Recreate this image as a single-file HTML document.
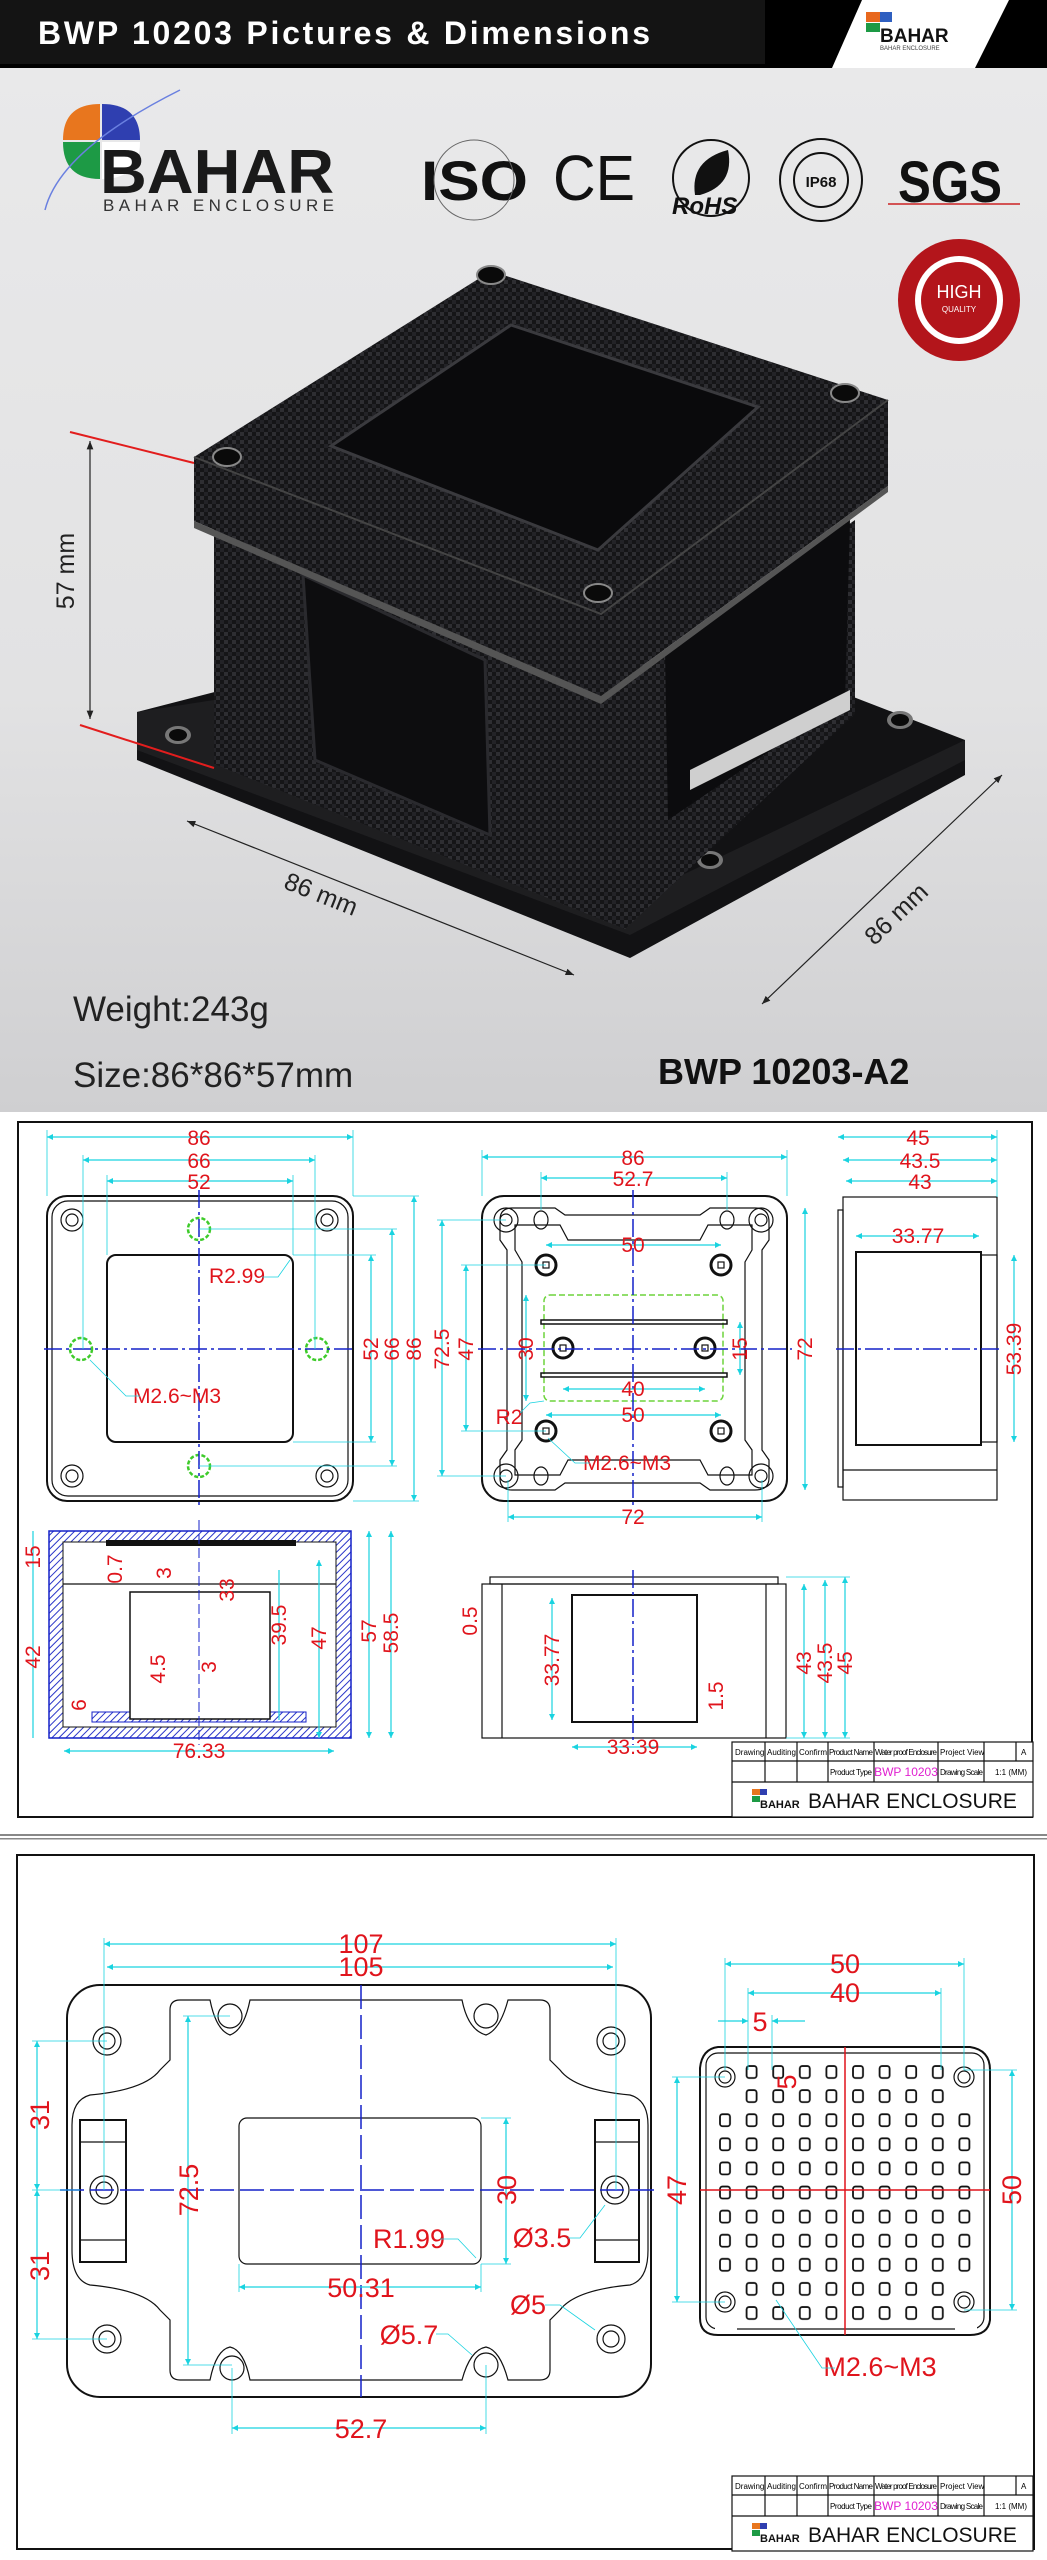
<!DOCTYPE html>
<html><head><meta charset="utf-8"><style>
html,body{margin:0;padding:0;background:#fff;}
svg{display:block;}
.t{font-family:"Liberation Sans",Arial,sans-serif;}
.dl{stroke:#19d3e0;stroke-width:1.2;fill:none;}
.ex{stroke:#19d3e0;stroke-width:0.8;fill:none;}
.r{fill:#e0141c;font-family:"Liberation Sans",Arial,sans-serif;font-size:21px;text-anchor:middle;}
.r3{fill:#e0141c;font-family:"Liberation Sans",Arial,sans-serif;font-size:27px;text-anchor:middle;}
.k{stroke:#111;stroke-width:2;fill:none;}
.k1{stroke:#111;stroke-width:1.2;fill:none;}
.cl{stroke:#1420c8;stroke-width:1.5;stroke-dasharray:18 4 3 4;fill:none;}
.tb{font-family:"Liberation Sans",Arial,sans-serif;font-size:8px;fill:#000;}
</style></head><body>
<svg width="1047" height="2560" viewBox="0 0 1047 2560" xmlns="http://www.w3.org/2000/svg">
<defs>
<linearGradient id="bg" x1="0" y1="0" x2="0" y2="1"><stop offset="0" stop-color="#e9e9ea"/><stop offset="0.6" stop-color="#e2e2e3"/><stop offset="1" stop-color="#cfcfd1"/></linearGradient>
<pattern id="cf" width="8" height="8" patternUnits="userSpaceOnUse"><rect width="8" height="8" fill="#151517"/><rect width="4" height="4" fill="#2e2e32"/><rect x="4" y="4" width="4" height="4" fill="#232327"/></pattern>
<pattern id="hat" width="5" height="5" patternUnits="userSpaceOnUse" patternTransform="rotate(45)"><rect width="5" height="5" fill="#fff"/><line x1="0" y1="0" x2="0" y2="5" stroke="#2a36c8" stroke-width="2"/></pattern>
<pattern id="grid" x="719" y="2064" width="26.6" height="24.1" patternUnits="userSpaceOnUse"><rect x="1" y="2" width="10" height="12" rx="2.5" fill="none" stroke="#111" stroke-width="1.8"/></pattern>
<marker id="a" viewBox="0 0 10 10" refX="10" refY="5" markerWidth="9" markerHeight="5" orient="auto-start-reverse"><path d="M0,0 L10,5 L0,10z" fill="#19d3e0"/></marker>
<marker id="b" viewBox="0 0 10 10" refX="10" refY="5" markerWidth="7" markerHeight="7" orient="auto-start-reverse"><path d="M0,1 L10,5 L0,9z" fill="#222"/></marker>
</defs>

<!-- ===== SECTION 1 ===== -->
<rect x="0" y="0" width="1047" height="68" fill="#000"/>
<rect x="0" y="0" width="765" height="64" fill="#141414"/>
<text x="38" y="44" class="t" font-size="32" font-weight="bold" fill="#fff" textLength="612">BWP 10203  Pictures &amp; Dimensions</text>
<polygon points="862,0 1009,0 975,68 832,68" fill="#fff"/>
<g transform="translate(866,12)">
<rect x="0" y="0" width="14" height="10" fill="#e8681e"/><rect x="14" y="0" width="12" height="10" fill="#2f5fc0"/>
<rect x="0" y="11" width="14" height="9" fill="#1d9a45"/>
<text x="14" y="30" class="t" font-size="19" font-weight="bold" fill="#111">BAHAR</text>
<text x="14" y="38" class="t" font-size="6" fill="#444">BAHAR ENCLOSURE</text>
</g>
<rect x="0" y="68" width="1047" height="1044" fill="url(#bg)"/>

<!-- logo -->
<g>
<path d="M63,140 Q63,104 100,104 L100,140z" fill="#e8761e"/>
<path d="M102,104 Q140,104 140,140 L102,140z" fill="#2f3fb0"/>
<path d="M63,142 L100,142 L100,179 Q63,179 63,142z" fill="#1d9a45"/>
<path d="M102,142 L140,142 Q140,179 102,179z" fill="#fff"/>
<path d="M45,210 Q60,150 180,90" stroke="#6a80e0" stroke-width="1.5" fill="none"/>
<text x="100" y="193" class="t" font-size="62" font-weight="bold" fill="#1a1a1a" textLength="234" lengthAdjust="spacingAndGlyphs">BAHAR</text>
<text x="103" y="211" class="t" font-size="17" fill="#333" textLength="231">BAHAR ENCLOSURE</text>
</g>
<!-- certs -->
<text x="421" y="200" class="t" font-size="56" font-weight="bold" fill="#111" textLength="107" lengthAdjust="spacingAndGlyphs">ISO</text>
<circle cx="474" cy="180" r="40" fill="none" stroke="#666" stroke-width="1"/>
<text x="553" y="200" class="t" font-size="64" fill="#111" textLength="82" lengthAdjust="spacingAndGlyphs">CE</text>
<circle cx="711" cy="178" r="38" fill="none" stroke="#111" stroke-width="2"/>
<path d="M695,195 Q690,160 728,150 Q735,185 700,195z" fill="#111"/>
<text x="672" y="214" class="t" font-size="24" font-style="italic" font-weight="bold" fill="#111">RoHS</text>
<circle cx="821" cy="180" r="41" fill="none" stroke="#111" stroke-width="2"/>
<circle cx="821" cy="180" r="27" fill="none" stroke="#111" stroke-width="2"/>
<text x="821" y="187" class="t" font-size="15" font-weight="bold" fill="#111" text-anchor="middle">IP68</text>
<text x="898" y="202" class="t" font-size="58" font-weight="bold" fill="#111" textLength="104" lengthAdjust="spacingAndGlyphs">SGS</text>
<line x1="888" y1="204" x2="1020" y2="204" stroke="#c22" stroke-width="1.5"/>
<circle cx="959" cy="300" r="61" fill="#b3151b"/>
<circle cx="959" cy="300" r="44" fill="#fff"/>
<circle cx="959" cy="300" r="38" fill="#b3151b"/>
<text x="959" y="298" class="t" font-size="18" fill="#fff" text-anchor="middle">HIGH</text>
<text x="959" y="312" class="t" font-size="8" fill="#fff" text-anchor="middle">QUALITY</text>

<!-- enclosure -->
<polygon points="137,712 300,670 768,664 965,740 965,775 630,958 137,760" fill="#121214"/>
<polygon points="137,712 214,700 630,900 965,740 965,760 630,935 137,750" fill="#1e1e20"/>
<ellipse cx="178" cy="735" rx="13" ry="9" fill="#777"/><ellipse cx="178" cy="735" rx="9" ry="6" fill="#0a0a0a"/>
<ellipse cx="900" cy="720" rx="13" ry="9" fill="#777"/><ellipse cx="900" cy="720" rx="9" ry="6" fill="#0a0a0a"/>
<ellipse cx="710" cy="860" rx="13" ry="9" fill="#777"/><ellipse cx="710" cy="860" rx="9" ry="6" fill="#0a0a0a"/>
<polygon points="214,520 601,696 625,929 214,764" fill="url(#cf)"/>
<polygon points="601,696 855,520 855,714 625,929" fill="url(#cf)"/>
<polygon points="303,575 485,660 490,835 315,760" fill="#0d0d0f" stroke="#2a2a2e" stroke-width="3"/>
<polygon points="665,650 850,520 845,700 668,820" fill="#0c0c0e"/>
<polygon points="690,770 850,690 850,710 690,790" fill="#cfcfcf"/>
<polygon points="194,457 491,271 888,400 888,486 601,696 194,521" fill="url(#cf)"/>
<polygon points="194,521 601,696 888,486 888,492 601,704 194,528" fill="#555"/>
<polyline points="194,457 601,614 888,400" fill="none" stroke="#444" stroke-width="2"/>
<polygon points="331,446 511,325 758,407 598,550" fill="#0a0a0c" stroke="#3a3a3e" stroke-width="3"/>
<g fill="#0a0a0a" stroke="#888" stroke-width="2">
<ellipse cx="491" cy="275" rx="14" ry="9"/><ellipse cx="227" cy="457" rx="14" ry="9"/>
<ellipse cx="845" cy="393" rx="14" ry="9"/><ellipse cx="598" cy="593" rx="14" ry="9"/></g>
<!-- photo dims -->
<line x1="70" y1="432" x2="194" y2="463" stroke="#e21d1d" stroke-width="2"/>
<line x1="80" y1="725" x2="214" y2="768" stroke="#e21d1d" stroke-width="2"/>
<line x1="90" y1="441" x2="90" y2="719" stroke="#222" stroke-width="1.2" marker-start="url(#b)" marker-end="url(#b)"/>
<text transform="translate(74,571) rotate(-90)" class="t" font-size="25" fill="#222" text-anchor="middle">57 mm</text>
<line x1="187" y1="821" x2="574" y2="975" stroke="#222" stroke-width="1.2" marker-start="url(#b)" marker-end="url(#b)"/>
<text transform="translate(318,902) rotate(21.7)" class="t" font-size="25" fill="#222" text-anchor="middle">86 mm</text>
<line x1="1002" y1="775" x2="762" y2="1004" stroke="#222" stroke-width="1.2" marker-start="url(#b)" marker-end="url(#b)"/>
<text transform="translate(902,920) rotate(-43.6)" class="t" font-size="25" fill="#222" text-anchor="middle">86 mm</text>
<text x="73" y="1021" class="t" font-size="35" fill="#222">Weight:243g</text>
<text x="73" y="1087" class="t" font-size="35" fill="#222">Size:86*86*57mm</text>
<text x="658" y="1084" class="t" font-size="36" font-weight="bold" fill="#111">BWP 10203-A2</text>

<!-- ===== SECTION 2 ===== -->
<rect x="0" y="1112" width="1047" height="726" fill="#fff"/>
<rect x="18" y="1122" width="1014" height="695" fill="none" stroke="#111" stroke-width="2"/>
<!-- view 1 -->
<rect x="47" y="1196" width="306" height="305" rx="20" class="k"/>
<rect x="52" y="1201" width="296" height="295" rx="16" class="k1"/>
<rect x="107" y="1255" width="186" height="187" rx="9" class="k"/>
<g class="k1"><circle cx="72" cy="1220" r="11"/><circle cx="72" cy="1220" r="6"/><circle cx="327" cy="1220" r="11"/><circle cx="327" cy="1220" r="6"/><circle cx="72" cy="1476" r="11"/><circle cx="72" cy="1476" r="6"/><circle cx="327" cy="1476" r="11"/><circle cx="327" cy="1476" r="6"/></g>
<g fill="none" stroke="#3ecb2a" stroke-width="2.5" stroke-dasharray="4 2"><circle cx="199" cy="1229" r="11"/><circle cx="81" cy="1349" r="11"/><circle cx="317" cy="1349" r="11"/><circle cx="199" cy="1466" r="11"/></g>
<line x1="199" y1="1190" x2="199" y2="1505" class="cl"/><line x1="44" y1="1349" x2="356" y2="1349" class="cl"/>
<line x1="47" y1="1137" x2="353" y2="1137" class="dl" marker-start="url(#a)" marker-end="url(#a)"/>
<line x1="83" y1="1160" x2="315" y2="1160" class="dl" marker-start="url(#a)" marker-end="url(#a)"/>
<line x1="107" y1="1181" x2="293" y2="1181" class="dl" marker-start="url(#a)" marker-end="url(#a)"/>
<line x1="47" y1="1130" x2="47" y2="1196" class="ex"/><line x1="353" y1="1130" x2="353" y2="1196" class="ex"/>
<line x1="83" y1="1155" x2="83" y2="1349" class="ex"/><line x1="315" y1="1155" x2="315" y2="1349" class="ex"/>
<line x1="107" y1="1175" x2="107" y2="1255" class="ex"/><line x1="293" y1="1175" x2="293" y2="1255" class="ex"/>
<line x1="371" y1="1255" x2="371" y2="1442" class="dl" marker-start="url(#a)" marker-end="url(#a)"/>
<line x1="392" y1="1229" x2="392" y2="1466" class="dl" marker-start="url(#a)" marker-end="url(#a)"/>
<line x1="414" y1="1196" x2="414" y2="1501" class="dl" marker-start="url(#a)" marker-end="url(#a)"/>
<line x1="293" y1="1255" x2="376" y2="1255" class="ex"/><line x1="293" y1="1442" x2="376" y2="1442" class="ex"/>
<line x1="199" y1="1229" x2="397" y2="1229" class="ex"/><line x1="199" y1="1466" x2="397" y2="1466" class="ex"/>
<line x1="353" y1="1196" x2="419" y2="1196" class="ex"/><line x1="353" y1="1501" x2="419" y2="1501" class="ex"/>
<text x="199" y="1145" class="r">86</text><text x="199" y="1168" class="r">66</text><text x="199" y="1189" class="r">52</text>
<text transform="translate(378,1349) rotate(-90)" class="r">52</text><text transform="translate(399,1349) rotate(-90)" class="r">66</text><text transform="translate(421,1349) rotate(-90)" class="r">86</text>
<text x="237" y="1283" class="r">R2.99</text><polyline points="262,1277 278,1277 290,1260" class="ex"/>
<text x="177" y="1403" class="r">M2.6~M3</text><polyline points="140,1396 126,1396 90,1360" class="ex"/>
<!-- view 2 -->
<rect x="482" y="1196" width="305" height="305" rx="22" class="k"/>
<path d="M500,1220 Q500,1208 512,1208 L555,1208 L565,1215 L700,1215 L710,1208 L755,1208 Q769,1208 769,1222 L769,1240 L762,1250 L762,1450 L769,1460 L769,1478 Q769,1490 755,1490 L710,1490 L700,1483 L565,1483 L555,1490 L512,1490 Q500,1490 500,1478 L500,1460 L507,1450 L507,1250 L500,1240z" class="k1"/>
<path d="M515,1225 L560,1225 L568,1240 L700,1240 L708,1225 L752,1225 L752,1250 L745,1262 L745,1440 L752,1450 L752,1475 L708,1475 L700,1460 L568,1460 L560,1475 L515,1475 L515,1450 L522,1440 L522,1262 L515,1250z" class="k1"/>
<g class="k1"><circle cx="506" cy="1220" r="12"/><circle cx="506" cy="1220" r="6"/><circle cx="761" cy="1220" r="12"/><circle cx="761" cy="1220" r="6"/><circle cx="506" cy="1476" r="12"/><circle cx="506" cy="1476" r="6"/><circle cx="761" cy="1476" r="12"/><circle cx="761" cy="1476" r="6"/>
<ellipse cx="541" cy="1220" rx="7" ry="9"/><ellipse cx="727" cy="1220" rx="7" ry="9"/><ellipse cx="541" cy="1476" rx="7" ry="9"/><ellipse cx="727" cy="1476" rx="7" ry="9"/></g>
<g fill="none" stroke="#111" stroke-width="3"><circle cx="546" cy="1265" r="10"/><circle cx="721" cy="1265" r="10"/><circle cx="546" cy="1431" r="10"/><circle cx="721" cy="1431" r="10"/><circle cx="563" cy="1348" r="10"/><circle cx="705" cy="1348" r="10"/></g>
<g class="k1"><rect x="543" y="1262" width="6" height="6"/><rect x="718" y="1262" width="6" height="6"/><rect x="543" y="1428" width="6" height="6"/><rect x="718" y="1428" width="6" height="6"/><rect x="560" y="1345" width="6" height="6"/><rect x="702" y="1345" width="6" height="6"/></g>
<rect x="544" y="1295" width="179" height="106" rx="6" fill="none" stroke="#6dd43c" stroke-width="1.5" stroke-dasharray="6 3"/>
<rect x="541" y="1320" width="186" height="4" fill="none" stroke="#111" stroke-width="1.5"/>
<rect x="541" y="1373" width="186" height="4" fill="none" stroke="#111" stroke-width="1.5"/>
<line x1="633" y1="1190" x2="633" y2="1505" class="cl"/><line x1="478" y1="1349" x2="792" y2="1349" class="cl"/>
<line x1="482" y1="1157" x2="787" y2="1157" class="dl" marker-start="url(#a)" marker-end="url(#a)"/>
<line x1="541" y1="1178" x2="727" y2="1178" class="dl" marker-start="url(#a)" marker-end="url(#a)"/>
<line x1="482" y1="1150" x2="482" y2="1196" class="ex"/><line x1="787" y1="1150" x2="787" y2="1196" class="ex"/>
<line x1="541" y1="1172" x2="541" y2="1210" class="ex"/><line x1="727" y1="1172" x2="727" y2="1210" class="ex"/>
<line x1="546" y1="1245" x2="721" y2="1245" class="dl" marker-start="url(#a)" marker-end="url(#a)"/>
<line x1="563" y1="1389" x2="705" y2="1389" class="dl" marker-start="url(#a)" marker-end="url(#a)"/>
<line x1="546" y1="1415" x2="721" y2="1415" class="dl" marker-start="url(#a)" marker-end="url(#a)"/>
<line x1="508" y1="1517" x2="762" y2="1517" class="dl" marker-start="url(#a)" marker-end="url(#a)"/>
<line x1="508" y1="1480" x2="508" y2="1522" class="ex"/><line x1="762" y1="1480" x2="762" y2="1522" class="ex"/>
<line x1="442" y1="1220" x2="442" y2="1476" class="dl" marker-start="url(#a)" marker-end="url(#a)"/>
<line x1="466" y1="1265" x2="466" y2="1431" class="dl" marker-start="url(#a)" marker-end="url(#a)"/>
<line x1="526" y1="1295" x2="526" y2="1401" class="dl" marker-start="url(#a)" marker-end="url(#a)"/>
<line x1="740" y1="1322" x2="740" y2="1375" class="dl" marker-start="url(#a)" marker-end="url(#a)"/>
<line x1="805" y1="1208" x2="805" y2="1490" class="dl" marker-start="url(#a)" marker-end="url(#a)"/>
<line x1="437" y1="1220" x2="506" y2="1220" class="ex"/><line x1="437" y1="1476" x2="506" y2="1476" class="ex"/>
<line x1="461" y1="1265" x2="546" y2="1265" class="ex"/><line x1="461" y1="1431" x2="546" y2="1431" class="ex"/>
<text x="633" y="1252" class="r">50</text><text x="633" y="1396" class="r">40</text><text x="633" y="1422" class="r">50</text><text x="633" y="1524" class="r">72</text>
<text x="633" y="1165" class="r">86</text>
<text x="633" y="1186" class="r">52.7</text>
<text transform="translate(449,1349) rotate(-90)" class="r">72.5</text><text transform="translate(473,1349) rotate(-90)" class="r">47</text>
<text transform="translate(533,1349) rotate(-90)" class="r">30</text><text transform="translate(747,1349) rotate(-90)" class="r">15</text>
<text transform="translate(812,1349) rotate(-90)" class="r">72</text>
<text x="509" y="1424" class="r">R2</text><polyline points="520,1413 530,1403 544,1401" class="ex"/>
<text x="627" y="1470" class="r">M2.6~M3</text><polyline points="590,1463 575,1463 548,1438" class="ex"/>
<!-- view 3 -->
<rect x="843" y="1197" width="154" height="303" class="k1"/>
<rect x="838" y="1210" width="5" height="277" class="k1"/>
<rect x="856" y="1252" width="125" height="193" class="k"/>
<rect x="981" y="1255" width="16" height="187" class="k1"/>
<line x1="843" y1="1470" x2="997" y2="1470" class="k1"/>
<line x1="836" y1="1349" x2="1000" y2="1349" class="cl"/>
<line x1="838" y1="1137" x2="997" y2="1137" class="dl" marker-start="url(#a)" marker-end="url(#a)"/>
<line x1="843" y1="1160" x2="997" y2="1160" class="dl" marker-start="url(#a)" marker-end="url(#a)"/>
<line x1="846" y1="1181" x2="997" y2="1181" class="dl" marker-start="url(#a)" marker-end="url(#a)"/>
<line x1="856" y1="1236" x2="979" y2="1236" class="dl" marker-start="url(#a)" marker-end="url(#a)"/>
<line x1="997" y1="1130" x2="997" y2="1197" class="ex"/>
<line x1="1014" y1="1255" x2="1014" y2="1442" class="dl" marker-start="url(#a)" marker-end="url(#a)"/>
<text x="918" y="1145" class="r">45</text><text x="920" y="1168" class="r">43.5</text><text x="920" y="1189" class="r">43</text><text x="918" y="1243" class="r">33.77</text>
<text transform="translate(1021,1349) rotate(-90)" class="r">53.39</text>
<!-- view 4 section -->
<path d="M49,1531 L351,1531 L351,1738 L49,1738z" fill="url(#hat)" stroke="#1420c8" stroke-width="1.5"/>
<rect x="63" y="1542" width="273" height="185" fill="#fff" stroke="#111" stroke-width="1"/>
<rect x="106" y="1540" width="190" height="6" fill="#111"/>
<rect x="92" y="1712" width="214" height="10" fill="url(#hat)" stroke="#1420c8"/>
<rect x="130" y="1592" width="140" height="127" fill="#fff" stroke="#111" stroke-width="1.5"/>
<line x1="63" y1="1584" x2="336" y2="1584" class="k1"/>
<line x1="199" y1="1520" x2="199" y2="1745" stroke="#1420c8" stroke-width="1" stroke-dasharray="10 4"/>
<line x1="64" y1="1751" x2="334" y2="1751" class="dl" marker-start="url(#a)" marker-end="url(#a)"/>
<line x1="33" y1="1531" x2="33" y2="1738" class="dl"/>
<line x1="369" y1="1531" x2="369" y2="1738" class="dl" marker-start="url(#a)" marker-end="url(#a)"/>
<line x1="391" y1="1531" x2="391" y2="1738" class="dl" marker-start="url(#a)" marker-end="url(#a)"/>
<line x1="319" y1="1560" x2="319" y2="1738" class="dl" marker-start="url(#a)" marker-end="url(#a)"/>
<line x1="279" y1="1570" x2="279" y2="1720" class="dl"/>
<text transform="translate(40,1557) rotate(-90)" class="r">15</text><text transform="translate(122,1569) rotate(-90)" class="r">0.7</text>
<text transform="translate(171,1573) rotate(-90)" class="r">3</text><text transform="translate(234,1590) rotate(-90)" class="r">33</text>
<text transform="translate(286,1625) rotate(-90)" class="r">39.5</text><text transform="translate(326,1638) rotate(-90)" class="r">47</text>
<text transform="translate(376,1631) rotate(-90)" class="r">57</text><text transform="translate(398,1633) rotate(-90)" class="r">58.5</text>
<text transform="translate(40,1657) rotate(-90)" class="r">42</text><text transform="translate(165,1669) rotate(-90)" class="r">4.5</text>
<text transform="translate(216,1667) rotate(-90)" class="r">3</text><text transform="translate(86,1705) rotate(-90)" class="r">6</text>
<text x="199" y="1758" class="r">76.33</text>
<!-- view 5 -->
<rect x="490" y="1577" width="288" height="7" class="k1"/>
<rect x="482" y="1584" width="304" height="154" class="k1"/>
<rect x="572" y="1595" width="125" height="127" class="k"/>
<line x1="502" y1="1584" x2="502" y2="1738" class="k1"/><line x1="766" y1="1584" x2="766" y2="1738" class="k1"/>
<line x1="633" y1="1570" x2="633" y2="1745" class="cl"/>
<line x1="552" y1="1598" x2="552" y2="1720" class="dl" marker-start="url(#a)" marker-end="url(#a)"/>
<line x1="572" y1="1747" x2="697" y2="1747" class="dl" marker-start="url(#a)" marker-end="url(#a)"/>
<line x1="804" y1="1584" x2="804" y2="1738" class="dl" marker-start="url(#a)" marker-end="url(#a)"/>
<line x1="825" y1="1580" x2="825" y2="1738" class="dl" marker-start="url(#a)" marker-end="url(#a)"/>
<line x1="845" y1="1577" x2="845" y2="1738" class="dl" marker-start="url(#a)" marker-end="url(#a)"/>
<line x1="786" y1="1577" x2="850" y2="1577" class="ex"/><line x1="786" y1="1738" x2="850" y2="1738" class="ex"/>
<text transform="translate(477,1621) rotate(-90)" class="r">0.5</text><text transform="translate(559,1660) rotate(-90)" class="r">33.77</text>
<text transform="translate(723,1696) rotate(-90)" class="r">1.5</text><text transform="translate(811,1663) rotate(-90)" class="r">43</text>
<text transform="translate(832,1663) rotate(-90)" class="r">43.5</text><text transform="translate(852,1663) rotate(-90)" class="r">45</text>
<text x="633" y="1754" class="r">33.39</text>
<!-- title block 1 -->
<g transform="translate(0,0)">
<rect x="732" y="1742" width="301" height="75" fill="#fff" stroke="#111" stroke-width="1.2"/>
<line x1="732" y1="1761" x2="1033" y2="1761" class="k1"/><line x1="732" y1="1782" x2="1033" y2="1782" class="k1"/>
<g class="k1"><line x1="765" y1="1742" x2="765" y2="1782"/><line x1="797" y1="1742" x2="797" y2="1782"/><line x1="828" y1="1742" x2="828" y2="1782"/><line x1="874" y1="1742" x2="874" y2="1782"/><line x1="938" y1="1742" x2="938" y2="1782"/><line x1="984" y1="1742" x2="984" y2="1782"/><line x1="1016" y1="1742" x2="1016" y2="1761"/></g>
<text x="735" y="1755" class="tb">Drawing</text><text x="767" y="1755" class="tb">Auditing</text><text x="799" y="1755" class="tb">Confirm</text><text x="829" y="1755" class="tb" textLength="44">Product Name</text><text x="875" y="1755" class="tb" textLength="62" font-size="7">Water proof Enclosure</text><text x="940" y="1755" class="tb">Project View</text><text x="1021" y="1755" class="tb">A</text>
<text x="830" y="1775" class="tb" textLength="42">Product Type</text><text x="906" y="1776" class="t" font-size="12" fill="#e020d0" text-anchor="middle">BWP 10203</text><text x="940" y="1775" class="tb" textLength="43">Drawing Scale</text><text x="995" y="1775" class="tb">1:1 (MM)</text>
<text x="808" y="1808" class="t" font-size="21" fill="#111">BAHAR  ENCLOSURE</text>
<rect x="752" y="1789" width="8" height="6" fill="#e8761e"/><rect x="760" y="1789" width="7" height="6" fill="#2f3fb0"/><rect x="752" y="1796" width="8" height="6" fill="#1d9a45"/>
<text x="760" y="1808" class="t" font-size="11" font-weight="bold" fill="#111">BAHAR</text>
</g>

<!-- separator -->
<rect x="0" y="1834" width="1047" height="2" fill="#888"/><rect x="0" y="1838" width="1047" height="1.5" fill="#888"/>

<!-- ===== SECTION 3 ===== -->
<rect x="17" y="1855" width="1017" height="694" fill="none" stroke="#111" stroke-width="2"/>
<rect x="67" y="1985" width="584" height="412" rx="33" class="k"/>
<path d="M170,2010 Q170,2000 180,2000 L210,2000 Q216,2030 230,2035 Q244,2030 250,2000 L462,2000 Q468,2030 486,2035 Q500,2030 508,2000 L540,2000 Q550,2000 550,2010 L550,2060 L560,2070 Q575,2090 630,2095 Q648,2100 648,2125 L648,2250 Q648,2280 630,2285 Q575,2290 560,2310 L550,2320 L550,2370 Q550,2380 540,2380 L508,2380 Q500,2350 486,2347 Q470,2350 462,2380 L250,2380 Q244,2350 230,2347 Q216,2350 210,2380 L180,2380 Q170,2380 170,2370 L170,2320 L160,2310 Q145,2290 90,2285 Q72,2280 72,2250 L72,2125 Q72,2100 90,2095 Q145,2090 160,2070 L170,2060z" class="k1"/>
<g class="k1"><circle cx="107" cy="2041" r="14"/><circle cx="107" cy="2041" r="8"/><circle cx="611" cy="2041" r="14"/><circle cx="611" cy="2041" r="8"/><circle cx="107" cy="2339" r="14"/><circle cx="107" cy="2339" r="8"/><circle cx="611" cy="2339" r="14"/><circle cx="611" cy="2339" r="8"/>
<circle cx="230" cy="2016" r="12"/><circle cx="486" cy="2016" r="12"/><circle cx="232" cy="2368" r="12"/><circle cx="486" cy="2365" r="12"/></g>
<rect x="80" y="2120" width="46" height="142" class="k"/><rect x="595" y="2120" width="44" height="142" class="k"/>
<g class="k1"><line x1="80" y1="2142" x2="126" y2="2142"/><line x1="80" y1="2240" x2="126" y2="2240"/><line x1="595" y1="2142" x2="639" y2="2142"/><line x1="595" y1="2240" x2="639" y2="2240"/>
<circle cx="104" cy="2190" r="14"/><circle cx="104" cy="2190" r="8"/><circle cx="615" cy="2190" r="14"/><circle cx="615" cy="2190" r="8"/></g>
<rect x="239" y="2118" width="242" height="146" rx="8" class="k1"/>
<line x1="361" y1="1985" x2="361" y2="2397" stroke="#1420c8" stroke-width="1.5" stroke-dasharray="24 6"/>
<line x1="60" y1="2190" x2="655" y2="2190" stroke="#1420c8" stroke-width="1.5" stroke-dasharray="24 6"/>
<line x1="104" y1="1944" x2="616" y2="1944" class="dl" marker-start="url(#a)" marker-end="url(#a)"/>
<line x1="107" y1="1967" x2="613" y2="1967" class="dl" marker-start="url(#a)" marker-end="url(#a)"/>
<line x1="104" y1="1938" x2="104" y2="2190" class="ex"/><line x1="616" y1="1938" x2="616" y2="2190" class="ex"/>
<line x1="232" y1="2428" x2="486" y2="2428" class="dl" marker-start="url(#a)" marker-end="url(#a)"/>
<line x1="232" y1="2368" x2="232" y2="2434" class="ex"/><line x1="486" y1="2365" x2="486" y2="2434" class="ex"/>
<line x1="239" y1="2287" x2="481" y2="2287" class="dl" marker-start="url(#a)" marker-end="url(#a)"/>
<line x1="239" y1="2264" x2="239" y2="2292" class="ex"/><line x1="481" y1="2264" x2="481" y2="2292" class="ex"/>
<line x1="37" y1="2041" x2="37" y2="2190" class="dl" marker-start="url(#a)" marker-end="url(#a)"/>
<line x1="37" y1="2190" x2="37" y2="2339" class="dl" marker-start="url(#a)" marker-end="url(#a)"/>
<line x1="32" y1="2041" x2="107" y2="2041" class="ex"/><line x1="32" y1="2339" x2="107" y2="2339" class="ex"/><line x1="32" y1="2190" x2="80" y2="2190" class="ex"/>
<line x1="188" y1="2016" x2="188" y2="2365" class="dl" marker-start="url(#a)" marker-end="url(#a)"/>
<line x1="183" y1="2016" x2="230" y2="2016" class="ex"/><line x1="183" y1="2365" x2="232" y2="2365" class="ex"/>
<line x1="506" y1="2118" x2="506" y2="2264" class="dl" marker-start="url(#a)" marker-end="url(#a)"/>
<line x1="481" y1="2118" x2="511" y2="2118" class="ex"/><line x1="481" y1="2264" x2="511" y2="2264" class="ex"/>
<text x="361" y="1953" class="r3">107</text><text x="361" y="1976" class="r3">105</text><text x="361" y="2438" class="r3">52.7</text><text x="361" y="2297" class="r3">50.31</text>
<text transform="translate(49,2115) rotate(-90)" class="r3">31</text><text transform="translate(49,2266) rotate(-90)" class="r3">31</text>
<text transform="translate(198,2190) rotate(-90)" class="r3">72.5</text><text transform="translate(516,2190) rotate(-90)" class="r3">30</text>
<text x="409" y="2248" class="r3">R1.99</text><polyline points="440,2239 458,2239 476,2258" class="ex"/>
<text x="542" y="2247" class="r3">Ø3.5</text><polyline points="568,2238 580,2238 605,2205" class="ex"/>
<text x="528" y="2314" class="r3">Ø5</text><polyline points="545,2305 560,2305 595,2330" class="ex"/>
<text x="409" y="2344" class="r3">Ø5.7</text><polyline points="436,2334 448,2334 472,2355" class="ex"/>
<!-- grid view -->
<path d="M718,2047 L970,2047 Q990,2050 990,2070 L990,2320 Q988,2335 970,2335 L718,2335 Q700,2335 700,2318 L700,2068 Q702,2049 718,2047z" class="k"/>
<rect x="706" y="2053" width="278" height="276" rx="12" class="k1"/>
<rect x="719" y="2064" width="266" height="266" fill="url(#grid)"/>
<g fill="#fff"><rect x="715" y="2062" width="22" height="50"/><rect x="955" y="2062" width="22" height="50"/><rect x="715" y="2278" width="22" height="52"/><rect x="955" y="2278" width="22" height="52"/></g>
<g class="k1"><circle cx="725" cy="2077" r="10"/><circle cx="725" cy="2077" r="6"/><circle cx="964" cy="2077" r="10"/><circle cx="964" cy="2077" r="6"/><circle cx="725" cy="2302" r="10"/><circle cx="725" cy="2302" r="6"/><circle cx="964" cy="2302" r="10"/><circle cx="964" cy="2302" r="6"/></g>
<line x1="845" y1="2047" x2="845" y2="2335" stroke="#e0141c" stroke-width="1.5"/>
<line x1="700" y1="2190" x2="990" y2="2190" stroke="#e0141c" stroke-width="1.5"/>
<line x1="725" y1="1964" x2="964" y2="1964" class="dl" marker-start="url(#a)" marker-end="url(#a)"/>
<line x1="748" y1="1993" x2="941" y2="1993" class="dl" marker-start="url(#a)" marker-end="url(#a)"/>
<line x1="718" y1="2021" x2="748" y2="2021" class="dl" marker-end="url(#a)"/><line x1="805" y1="2021" x2="772" y2="2021" class="dl" marker-end="url(#a)"/>
<line x1="725" y1="1958" x2="725" y2="2070" class="ex"/><line x1="964" y1="1958" x2="964" y2="2070" class="ex"/>
<line x1="748" y1="1988" x2="748" y2="2070" class="ex"/><line x1="941" y1="1988" x2="941" y2="2070" class="ex"/><line x1="772" y1="2015" x2="772" y2="2070" class="ex"/>
<line x1="677" y1="2077" x2="677" y2="2302" class="dl" marker-start="url(#a)" marker-end="url(#a)"/>
<line x1="672" y1="2077" x2="725" y2="2077" class="ex"/><line x1="672" y1="2302" x2="725" y2="2302" class="ex"/>
<line x1="1012" y1="2070" x2="1012" y2="2310" class="dl" marker-start="url(#a)" marker-end="url(#a)"/>
<line x1="964" y1="2070" x2="1017" y2="2070" class="ex"/><line x1="964" y1="2310" x2="1017" y2="2310" class="ex"/>
<text x="845" y="1973" class="r3">50</text><text x="845" y="2002" class="r3">40</text><text x="760" y="2031" class="r3">5</text>
<text transform="translate(796,2082) rotate(-90)" class="r3">5</text>
<text transform="translate(686,2190) rotate(-90)" class="r3">47</text><text transform="translate(1021,2190) rotate(-90)" class="r3">50</text>
<text x="880" y="2376" class="r3">M2.6~M3</text><polyline points="835,2368 822,2368 776,2300" class="ex"/>
<!-- title block 2 -->
<g transform="translate(0,734)">
<rect x="732" y="1742" width="301" height="75" fill="#fff" stroke="#111" stroke-width="1.2"/>
<line x1="732" y1="1761" x2="1033" y2="1761" class="k1"/><line x1="732" y1="1782" x2="1033" y2="1782" class="k1"/>
<g class="k1"><line x1="765" y1="1742" x2="765" y2="1782"/><line x1="797" y1="1742" x2="797" y2="1782"/><line x1="828" y1="1742" x2="828" y2="1782"/><line x1="874" y1="1742" x2="874" y2="1782"/><line x1="938" y1="1742" x2="938" y2="1782"/><line x1="984" y1="1742" x2="984" y2="1782"/><line x1="1016" y1="1742" x2="1016" y2="1761"/></g>
<text x="735" y="1755" class="tb">Drawing</text><text x="767" y="1755" class="tb">Auditing</text><text x="799" y="1755" class="tb">Confirm</text><text x="829" y="1755" class="tb" textLength="44">Product Name</text><text x="875" y="1755" class="tb" textLength="62" font-size="7">Water proof Enclosure</text><text x="940" y="1755" class="tb">Project View</text><text x="1021" y="1755" class="tb">A</text>
<text x="830" y="1775" class="tb" textLength="42">Product Type</text><text x="906" y="1776" class="t" font-size="12" fill="#e020d0" text-anchor="middle">BWP 10203</text><text x="940" y="1775" class="tb" textLength="43">Drawing Scale</text><text x="995" y="1775" class="tb">1:1 (MM)</text>
<text x="808" y="1808" class="t" font-size="21" fill="#111">BAHAR  ENCLOSURE</text>
<rect x="752" y="1789" width="8" height="6" fill="#e8761e"/><rect x="760" y="1789" width="7" height="6" fill="#2f3fb0"/><rect x="752" y="1796" width="8" height="6" fill="#1d9a45"/>
<text x="760" y="1808" class="t" font-size="11" font-weight="bold" fill="#111">BAHAR</text>
</g>
</svg>
</body></html>
